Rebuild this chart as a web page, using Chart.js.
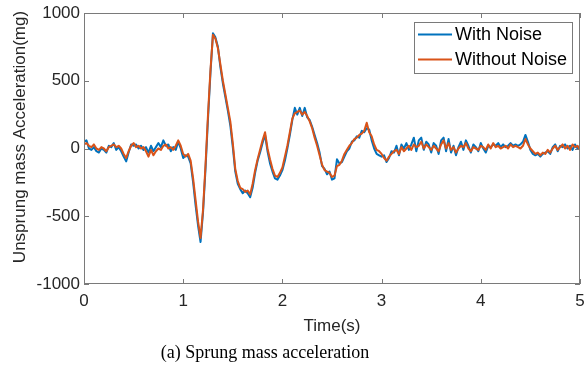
<!DOCTYPE html>
<html>
<head>
<meta charset="utf-8">
<script src="https://cdn.jsdelivr.net/npm/chart.js@4.4.1/dist/chart.umd.min.js"></script>
<style>
  html, body { margin: 0; padding: 0; background: #fff; }
  #wrap { width: 588px; height: 372px; position: relative; }
</style>
</head>
<body>
<div id="wrap"><canvas id="c" width="588" height="372"></canvas></div>
<script>
// ---- data ----
const SAMPLE_DT = 0.025; // s, sample spacing
const seriesNames = ["With Noise", "Without Noise"];
const xTicks = [0, 1, 2, 3, 4, 5];
const yTicks = [-1000, -500, 0, 500, 1000];
const xTitle = "Time(s)";
const yTitle = "Unsprung mass Acceleration(mg)";
const caption = "(a) Sprung mass acceleration";

const withNoise = [
  50, 60, 0, -10, 10, -20, -30, 0, -10, -30,
  20, 10, 40, -10, 10, -20, -60, -95, -30, 30,
  20, 30, 0, 20, -10, 10, -30, 20, -20, 10,
  40, 10, 60, 20, 30, -20, 10, -10, 50, 0,
  -70, -50, -60, -110, -250, -420, -570, -690, -470, -150,
  220, 560, 850, 820, 750, 600, 480, 380, 280, 170,
  10, -170, -260, -300, -330, -310, -330, -360, -290, -180,
  -90, -30, 40, 100, -20, -110, -170, -220, -230, -200,
  -160, -90, 0, 100, 210, 300, 250, 300, 240, 300,
  230, 210, 160, 100, 40, -30, -130, -150, -190, -170,
  -230, -220, -80, -110, -100, -60, -20, 0, 50, 60,
  90, 80, 130, 120, 150, 140, 60, 0, -40, -50,
  -60, -50, -100, -70, -20, -30, 20, -50, 30, 0,
  40, -10, 30, 80, -20, 60, 80, -10, 50, 30,
  -30, 40, 20, -40, 60, 80, -20, 70, -30, 20,
  -50, 10, 50, -10, 60, 20, -30, 30, 10, -20,
  40, 0, -30, 20, 10, 30, 20, 40, 10, 30,
  10, 20, 40, 20, 30, 20, 30, 50, 100, 50,
  -10, -40, -50, -40, -60, -40, -30, -20, -40, 10,
  30, -20, 20, 10, 30, 0, 20, -10, 30, 0,
  20
];

const withoutNoise = [
  30, 40, 20, 10, 30, 0, -10, 10, 0, -20,
  10, 20, 30, 10, 20, 0, -40, -70, -20, 20,
  40, 10, 20, 0, 10, -20, -60, -10, -50, -20,
  0, -10, 20, 30, 0, 10, -10, 20, 60, 20,
  -40, -60, -40, -90, -220, -380, -540, -660, -450, -120,
  250, 580, 840, 810, 740, 620, 500, 400, 300, 200,
  40, -150, -240, -290, -300, -320, -310, -340, -260, -160,
  -80, -10, 60, 120, 0, -80, -150, -200, -210, -180,
  -140, -60, 20, 120, 220, 260, 270, 280, 250, 270,
  240, 200, 150, 80, 20, -50, -120, -160, -170, -180,
  -210, -200, -130, -120, -90, -40, -10, 20, 40, 70,
  80, 100, 110, 130, 190, 120, 90, 30, -10, -20,
  -40, -70, -90, -60, -40, -20, -10, -40, 10, -20,
  0, 20, -10, 30, 10, 20, 50, 0, 30, 10,
  -10, 20, 0, -20, 30, 60, 0, 40, -10, 10,
  -30, 0, 20, 10, 40, 0, -20, 10, 0, -10,
  20, 10, -10, 30, 0, 40, 10, 20, 0, 10,
  20, 0, 30, 10, 20, 10, 0, 20, 70, 30,
  0, -20, -40, -30, -50, -30, -40, -10, -30, 0,
  20, -10, 10, 30, 0, 20, -10, 30, 10, 20,
  -10
];

const colors = ["#0072BD", "#D95319"];

// sample time base
const timeS = withNoise.map((_, i) => +(i * SAMPLE_DT).toFixed(3));
const toXY = (arr) => arr.map((v, i) => ({ x: timeS[i], y: v }));

const TEXT = "#262626";
const AXIS = "#7a7a7a";
const SANS = "'Liberation Sans', Arial, sans-serif";
const SERIF = "'Liberation Serif', 'Times New Roman', serif";

const decor = {
  id: "decor",
  afterDatasetsDraw(chart) {
    const { ctx, chartArea: a, scales } = chart;
    ctx.save();
    ctx.strokeStyle = AXIS;
    ctx.lineWidth = 1;
    ctx.strokeRect(Math.round(a.left) + 0.5, Math.round(a.top) + 0.5,
      Math.round(a.right - a.left) - 1, Math.round(a.bottom - a.top) - 1);
    const L = 5;
    ctx.beginPath();
    xTicks.forEach(t => {
      const px = Math.round(scales.x.getPixelForValue(t)) + 0.5;
      ctx.moveTo(px, a.bottom); ctx.lineTo(px, a.bottom - L);
      ctx.moveTo(px, a.top); ctx.lineTo(px, a.top + L);
    });
    yTicks.forEach(v => {
      const py = Math.round(scales.y.getPixelForValue(v)) + 0.5;
      ctx.moveTo(a.left, py); ctx.lineTo(a.left + L, py);
      ctx.moveTo(a.right, py); ctx.lineTo(a.right - L, py);
    });
    ctx.stroke();

    // legend box
    const lx = 414, ly = 22, lw = 158, lh = 51;
    ctx.fillStyle = "#fff";
    ctx.fillRect(lx, ly, lw, lh);
    ctx.strokeStyle = AXIS;
    ctx.strokeRect(lx + 0.5, ly + 0.5, lw, lh);
    ctx.font = "18px " + SANS;
    ctx.textBaseline = "middle";
    ctx.textAlign = "left";
    const rows = [34.5, 59.5];
    seriesNames.forEach((n, i) => {
      ctx.strokeStyle = colors[i];
      ctx.lineWidth = 2;
      ctx.beginPath();
      ctx.moveTo(418, rows[i]); ctx.lineTo(452, rows[i]);
      ctx.stroke();
      ctx.fillStyle = "#000";
      ctx.fillText(n, 455, rows[i] + 1);
    });

    ctx.fillStyle = TEXT;
    ctx.font = "17px " + SANS;
    ctx.textAlign = "center";
    ctx.fillText(xTitle, (a.left + a.right) / 2, 326);
    ctx.save();
    ctx.translate(20, 137);
    ctx.rotate(-Math.PI / 2);
    ctx.fillText(yTitle, 0, 0);
    ctx.restore();
    ctx.fillStyle = "#000";
    ctx.font = "18px " + SERIF;
    ctx.fillText(caption, 265, 353);
    ctx.restore();
  }
};

new Chart(document.getElementById("c"), {
  type: "line",
  data: {
    datasets: [
      { label: seriesNames[0], data: toXY(withNoise), borderColor: colors[0], order: 2 },
      { label: seriesNames[1], data: toXY(withoutNoise), borderColor: colors[1], order: 1 }
    ]
  },
  options: {
    responsive: false,
    animation: false,
    devicePixelRatio: 1,
    layout: { padding: { top: 13, right: 8, left: 0, bottom: 0 } },
    elements: {
      point: { radius: 0 },
      line: { borderWidth: 2, tension: 0, borderJoinStyle: "round" }
    },
    plugins: { legend: { display: false }, tooltip: { enabled: false } },
    scales: {
      x: {
        type: "linear", min: 0, max: 5,
        afterFit: (s) => { s.height = 88; s.paddingRight = 0; s.paddingLeft = 0; },
        afterBuildTicks: (s) => { s.ticks = xTicks.map(v => ({ value: v })); },
        ticks: { color: TEXT, font: { family: SANS, size: 17 }, padding: 7, maxRotation: 0,
                 callback: (v) => String(v) },
        grid: { display: false, drawTicks: false },
        border: { display: false }
      },
      y: {
        min: -1000, max: 1000,
        afterFit: (s) => { s.width = 84; s.paddingTop = 0; s.paddingBottom = 0; },
        afterBuildTicks: (s) => { s.ticks = yTicks.map(v => ({ value: v })); },
        ticks: { color: TEXT, font: { family: SANS, size: 17 }, padding: 4,
                 callback: (v) => String(v) },
        grid: { display: false, drawTicks: false },
        border: { display: false }
      }
    }
  },
  plugins: [decor]
});
</script>
</body>
</html>
